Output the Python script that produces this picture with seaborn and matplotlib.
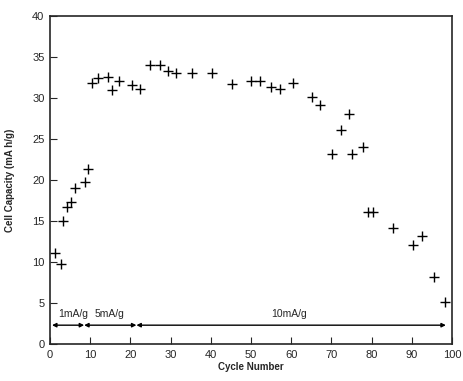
import numpy as np
import pandas as pd
import seaborn as sns
import matplotlib
matplotlib.use('Agg')
import matplotlib.pyplot as plt

# values
cycle = [1.2, 2.7, 3.3, 4.3, 5.2, 6.2, 8.7, 9.5,
         10.4, 12.0, 14.4, 15.4, 17.2, 20.3, 22.4,
         24.9, 27.4, 29.4, 31.3, 35.3, 40.3, 45.3, 50.0, 52.2,
         55.0, 57.2, 60.5, 65.2, 67.2, 70.1, 72.4, 74.4, 75.1, 77.9,
         79.2, 80.3, 85.3, 90.3, 92.5, 95.5, 98.3]
capacity = [11.1, 9.8, 15.0, 16.7, 17.3, 19.0, 19.7, 21.4,
            31.8, 32.5, 32.6, 31.0, 32.1, 31.6, 31.1,
            34.0, 34.0, 33.3, 33.0, 33.0, 33.0, 31.7, 32.1, 32.1,
            31.3, 31.1, 31.8, 30.1, 29.1, 23.2, 26.1, 28.0, 23.2, 24.0,
            16.1, 16.1, 14.1, 12.1, 13.2, 8.2, 5.1]

rate_labels = ['1mA/g', '5mA/g', '10mA/g']
rate_bounds = [0.5, 8.5, 21.5, 98.5]
rate_label_x = [2.0, 11.0, 55.0]

df = pd.DataFrame({'cycle': cycle, 'capacity': capacity})

sns.set_style('ticks')
plt.rcParams['font.family'] = ['Liberation Sans', 'DejaVu Sans']

fig = plt.figure(figsize=(4.63, 3.81), dpi=100)
ax = fig.add_axes([0.108, 0.097, 0.868, 0.861])

sns.scatterplot(data=df, x='cycle', y='capacity', marker='+', color='black',
                s=60, linewidth=1.0, ax=ax)

# current-density segments
y_arrow = 2.3
for i in range(len(rate_labels)):
    ax.annotate('', xy=(rate_bounds[i + 1], y_arrow), xytext=(rate_bounds[i], y_arrow),
                arrowprops=dict(arrowstyle='<|-|>', color='black', lw=1.0,
                                mutation_scale=6, shrinkA=0, shrinkB=0))
    ax.text(rate_label_x[i], 3.1, rate_labels[i], fontsize=7.5, ha='left', va='bottom')

ax.set_xlim(0, 100)
ax.set_ylim(0, 40)
ax.set_xticks(range(0, 101, 10))
ax.set_yticks(range(0, 41, 5))
ax.tick_params(direction='in', length=5, width=0.8, labelsize=8, pad=4)
for sp in ax.spines.values():
    sp.set_visible(True)
    sp.set_linewidth(1.2)
ax.set_xlabel('Cycle Number', fontsize=7, fontweight='bold', labelpad=2)
ax.set_ylabel('Cell Capacity (mA h/g)', fontsize=7, fontweight='bold', labelpad=12)

fig.savefig('out.png', dpi=100)
